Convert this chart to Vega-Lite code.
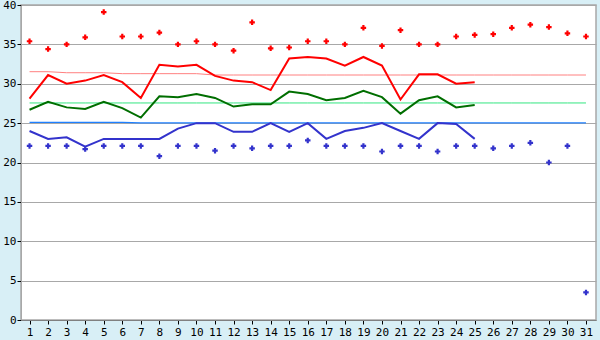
{
  "$schema": "https://vega.github.io/schema/vega-lite/v6.json",
  "width": 575,
  "height": 315,
  "autosize": "none",
  "padding": {"left": 21, "top": 5, "right": 4, "bottom": 20},
  "background": "#D8EFF6",
  "config": {
    "view": {"fill": "#FFFFFF", "stroke": "#A8A8A8", "strokeWidth": 1.5},
    "axis": {"labelFont": "DejaVu Sans Mono", "labelFontSize": 11, "labelColor": "#000000", "title": null},
    "axisY": {"tickCount": 8, "grid": true, "gridColor": "#A8A8A8", "gridWidth": 1, "domainColor": "#A8A8A8", "tickColor": "#000000", "tickSize": 4, "labelPadding": 1, "labelOverlap": false, "labelFlush": false}
  },
  "data": {"values": [
    {"day": 1, "hi": 35.4, "lo": 22.1, "hiAvg": 28.1, "midAvg": 26.7, "loAvg": 24.0, "hiRef": 31.53, "midRef": 27.56, "loRef": 25.09},
    {"day": 2, "hi": 34.4, "lo": 22.1, "hiAvg": 31.1, "midAvg": 27.7, "loAvg": 23.0, "hiRef": 31.53, "midRef": 27.56, "loRef": 25.09},
    {"day": 3, "hi": 35.0, "lo": 22.1, "hiAvg": 30.0, "midAvg": 27.0, "loAvg": 23.2, "hiRef": 31.40, "midRef": 27.56, "loRef": 25.09},
    {"day": 4, "hi": 35.9, "lo": 21.7, "hiAvg": 30.4, "midAvg": 26.8, "loAvg": 22.0, "hiRef": 31.40, "midRef": 27.56, "loRef": 25.09},
    {"day": 5, "hi": 39.1, "lo": 22.1, "hiAvg": 31.1, "midAvg": 27.7, "loAvg": 23.0, "hiRef": 31.40, "midRef": 27.56, "loRef": 25.09},
    {"day": 6, "hi": 36.0, "lo": 22.1, "hiAvg": 30.2, "midAvg": 26.9, "loAvg": 23.0, "hiRef": 31.28, "midRef": 27.56, "loRef": 25.09},
    {"day": 7, "hi": 36.0, "lo": 22.1, "hiAvg": 28.2, "midAvg": 25.7, "loAvg": 23.0, "hiRef": 31.28, "midRef": 27.56, "loRef": 25.02},
    {"day": 8, "hi": 36.5, "lo": 20.8, "hiAvg": 32.4, "midAvg": 28.4, "loAvg": 23.0, "hiRef": 31.28, "midRef": 27.56, "loRef": 25.02},
    {"day": 9, "hi": 35.0, "lo": 22.1, "hiAvg": 32.2, "midAvg": 28.3, "loAvg": 24.3, "hiRef": 31.28, "midRef": 27.56, "loRef": 25.02},
    {"day": 10, "hi": 35.4, "lo": 22.1, "hiAvg": 32.4, "midAvg": 28.7, "loAvg": 25.0, "hiRef": 31.28, "midRef": 27.56, "loRef": 25.02},
    {"day": 11, "hi": 35.0, "lo": 21.5, "hiAvg": 31.0, "midAvg": 28.2, "loAvg": 25.0, "hiRef": 31.11, "midRef": 27.56, "loRef": 25.02},
    {"day": 12, "hi": 34.2, "lo": 22.1, "hiAvg": 30.4, "midAvg": 27.1, "loAvg": 23.9, "hiRef": 31.11, "midRef": 27.56, "loRef": 25.02},
    {"day": 13, "hi": 37.8, "lo": 21.8, "hiAvg": 30.2, "midAvg": 27.4, "loAvg": 23.9, "hiRef": 31.11, "midRef": 27.56, "loRef": 25.02},
    {"day": 14, "hi": 34.5, "lo": 22.1, "hiAvg": 29.2, "midAvg": 27.4, "loAvg": 25.0, "hiRef": 31.11, "midRef": 27.56, "loRef": 25.02},
    {"day": 15, "hi": 34.6, "lo": 22.1, "hiAvg": 33.2, "midAvg": 29.0, "loAvg": 23.9, "hiRef": 31.11, "midRef": 27.56, "loRef": 25.02},
    {"day": 16, "hi": 35.4, "lo": 22.8, "hiAvg": 33.4, "midAvg": 28.7, "loAvg": 25.0, "hiRef": 31.11, "midRef": 27.56, "loRef": 25.02},
    {"day": 17, "hi": 35.4, "lo": 22.1, "hiAvg": 33.2, "midAvg": 27.9, "loAvg": 23.0, "hiRef": 31.11, "midRef": 27.56, "loRef": 25.02},
    {"day": 18, "hi": 35.0, "lo": 22.1, "hiAvg": 32.3, "midAvg": 28.2, "loAvg": 24.0, "hiRef": 31.11, "midRef": 27.56, "loRef": 25.02},
    {"day": 19, "hi": 37.1, "lo": 22.1, "hiAvg": 33.4, "midAvg": 29.1, "loAvg": 24.4, "hiRef": 31.11, "midRef": 27.56, "loRef": 25.02},
    {"day": 20, "hi": 34.8, "lo": 21.4, "hiAvg": 32.3, "midAvg": 28.3, "loAvg": 25.0, "hiRef": 31.11, "midRef": 27.56, "loRef": 25.02},
    {"day": 21, "hi": 36.8, "lo": 22.1, "hiAvg": 28.0, "midAvg": 26.2, "loAvg": 24.0, "hiRef": 31.11, "midRef": 27.56, "loRef": 25.02},
    {"day": 22, "hi": 35.0, "lo": 22.1, "hiAvg": 31.2, "midAvg": 27.9, "loAvg": 23.0, "hiRef": 31.11, "midRef": 27.56, "loRef": 25.02},
    {"day": 23, "hi": 35.0, "lo": 21.4, "hiAvg": 31.2, "midAvg": 28.4, "loAvg": 25.0, "hiRef": 31.11, "midRef": 27.56, "loRef": 25.02},
    {"day": 24, "hi": 36.0, "lo": 22.1, "hiAvg": 30.0, "midAvg": 27.0, "loAvg": 24.9, "hiRef": 31.11, "midRef": 27.56, "loRef": 25.02},
    {"day": 25, "hi": 36.2, "lo": 22.1, "hiAvg": 30.2, "midAvg": 27.3, "loAvg": 23.0, "hiRef": 31.11, "midRef": 27.56, "loRef": 25.02},
    {"day": 26, "hi": 36.3, "lo": 21.8, "hiRef": 31.11, "midRef": 27.56, "loRef": 25.02},
    {"day": 27, "hi": 37.1, "lo": 22.1, "hiRef": 31.11, "midRef": 27.56, "loRef": 25.02},
    {"day": 28, "hi": 37.5, "lo": 22.5, "hiRef": 31.11, "midRef": 27.56, "loRef": 25.02},
    {"day": 29, "hi": 37.2, "lo": 20.0, "hiRef": 31.11, "midRef": 27.56, "loRef": 25.02},
    {"day": 30, "hi": 36.4, "lo": 22.1, "hiRef": 31.11, "midRef": 27.56, "loRef": 25.02},
    {"day": 31, "hi": 36.0, "lo": 3.5, "hiRef": 31.11, "midRef": 27.56, "loRef": 25.02}
  ]},
  "encoding": {
    "x": {
      "field": "day", "type": "quantitative",
      "scale": {"domain": [0.54, 31.54], "nice": false, "zero": false},
      "axis": {
        "values": [1,2,3,4,5,6,7,8,9,10,11,12,13,14,15,16,17,18,19,20,21,22,23,24,25,26,27,28,29,30,31],
        "grid": false, "tickSize": 4, "tickColor": "#000000", "domainColor": "#808080",
        "labelPadding": 2, "labelFlush": false, "labelOverlap": false
      }
    }
  },
  "layer": [
    {
      "mark": {"type": "line", "color": "#FF8080", "strokeWidth": 1},
      "encoding": {
        "y": {
          "field": "hiRef", "type": "quantitative",
          "scale": {"domain": [0, 40], "nice": false}
        }
      }
    },
    {
      "mark": {"type": "line", "color": "#33E680", "strokeWidth": 1},
      "encoding": {"y": {"field": "midRef", "type": "quantitative"}}
    },
    {
      "mark": {"type": "line", "color": "#1E80FF", "strokeWidth": 1.2},
      "encoding": {"y": {"field": "loRef", "type": "quantitative"}}
    },
    {
      "mark": {"type": "line", "color": "#FF0000", "strokeWidth": 2},
      "encoding": {"y": {"field": "hiAvg", "type": "quantitative"}}
    },
    {
      "mark": {"type": "line", "color": "#006E00", "strokeWidth": 2},
      "encoding": {"y": {"field": "midAvg", "type": "quantitative"}}
    },
    {
      "mark": {"type": "line", "color": "#3333CC", "strokeWidth": 2},
      "encoding": {"y": {"field": "loAvg", "type": "quantitative"}}
    },
    {
      "mark": {"type": "point", "shape": "cross", "filled": true, "size": 30, "color": "#FF0000", "opacity": 1},
      "encoding": {"y": {"field": "hi", "type": "quantitative"}}
    },
    {
      "mark": {"type": "point", "shape": "cross", "filled": true, "size": 30, "color": "#3333CC", "opacity": 1},
      "encoding": {"y": {"field": "lo", "type": "quantitative"}}
    }
  ]
}
